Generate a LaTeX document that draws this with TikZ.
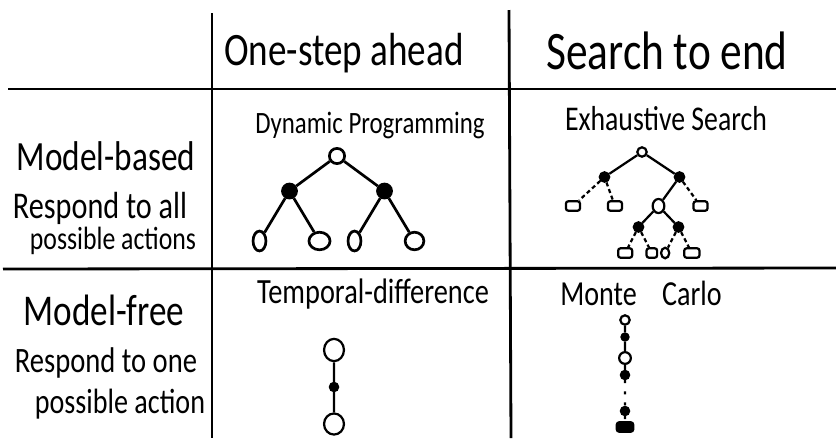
\documentclass[tikz,border=0pt]{standalone}
\usepackage{fontspec}
\setmainfont{Carlito}
\usetikzlibrary{shapes.geometric}

% handwriting is taller than the font, so stretch the words a bit
\newcommand{\tallword}[1]{\scalebox{1}[1.25]{#1}}

\begin{document}
\begin{tikzpicture}[x=0.03cm, y=-0.03cm, line width=1.9pt]
   \tikzset{hand/.style={inner sep=0pt, anchor=base, font=\fontsize{#1}{#1}\selectfont}}
   \tikzstyle{state}=[draw, ellipse, solid, inner sep=0pt, minimum width=11pt, minimum height=11pt]
   \tikzstyle{act}=[draw, circle, solid, fill=black, inner sep=0pt, minimum size=9pt]
   \tikzstyle{term}=[draw, solid, rectangle, rounded corners=2pt, inner sep=0pt,
                     minimum width=12pt, minimum height=8pt]
   \tikzstyle{tail}=[dash pattern=on 3.5pt off 2.5pt]

\useasboundingbox (0,0) rectangle (836,438);

% the table
\draw[line width=2.4pt] (8,89) -- (836,89);
\draw[line width=2.4pt] (3,269) -- (836,268);
\draw[line width=2.4pt] (212,13) -- (212,438);
\draw[line width=2.4pt] (509,10) -- (511,438);

% column heads
\node[hand=31.7] (onestep) at (344,65) {\tallword{One-step ahead}};
\node[hand=37] (toend) at (667,69) {\tallword{Search to end}};

% row heads
\node[hand=28.4] (based) at (106,170) {\tallword{Model-based}};
\node[hand=25.8] (basednote) at (100,218) {\tallword{Respond to all}};
\node[hand=22] (basednote2) at (113,249) {\tallword{possible actions}};
\node[hand=30] (free) at (104,325) {\tallword{Model-free}};
\node[hand=24.4] (freenote) at (106,372) {\tallword{Respond to one}};
\node[hand=24] (freenote2) at (120,413) {\tallword{possible action}};

% cell titles
\node[hand=21.2] (dp) at (370,133) {\tallword{Dynamic Programming}};
\node[hand=23.7] (es) at (666,130) {\tallword{Exhaustive Search}};
\node[hand=24.2] (td) at (373,303) {\tallword{Temporal-difference}};
\node[hand=24] (mc) at (641,305) {\tallword{Monte\hspace{0.9em}Carlo}};

% dynamic programming: full one-step backup
\begin{scope}[line width=2.3pt,
              level 1/.style={sibling distance=2.85cm, level distance=1.05cm},
              level 2/.style={sibling distance=1.8cm, level distance=1.5cm}]
\node[state, minimum size=13pt] (dproot) at (337,156) {}
    child {node[act, minimum size=12pt] (dpa) {}
        child {node[state, minimum width=11pt, minimum height=17pt] (dpaa) {}}
        child {node[state, minimum width=18pt, minimum height=15pt] (dpab) {}}
    }
    child {node[act, minimum size=12pt] (dpb) {}
        child {node[state, minimum width=11pt, minimum height=17pt] (dpba) {}}
        child {node[state, minimum width=16pt, minimum height=15pt] (dpbb) {}}
    };
\end{scope}

% exhaustive search: whole tree down to the ends
\begin{scope}[level 1/.style={sibling distance=2.25cm, level distance=0.75cm},
              level 2/.style={sibling distance=1.26cm, level distance=0.87cm},
              level 3/.style={sibling distance=1.2cm, level distance=0.63cm},
              level 4/.style={sibling distance=0.8cm, level distance=0.78cm}]
\node[state, minimum size=8pt] (esroot) at (642,152) {}
    child {node[act, minimum size=8pt] (esa) {}
        child[tail] {node[term, xshift=-9pt] (esaa) {}}
        child[tail] {node[term, xshift=-9pt] (esab) {}}
    }
    child {node[act, minimum size=8pt] (esb) {}
        child {node[state, minimum width=10pt, minimum height=12pt] (esba) {}
            child {node[act, minimum size=8pt] (esbaa) {}
                child[tail] {node[term] (esbaaa) {}}
                child[tail] {node[term, minimum width=9pt] (esbaab) {}}
            }
            child {node[act, minimum size=8pt] (esbab) {}
                child[tail] {node[state, minimum width=7pt, minimum height=9pt] (esbaba) {}}
                child[tail] {node[term, minimum width=13pt] (esbabb) {}}
            }
        }
        child[tail] {node[term] (esbb) {}}
    };
\end{scope}

% temporal-difference: one sampled step
\begin{scope}[level distance=1.11cm]
\node[state, minimum width=17pt, minimum height=19pt] (tdroot) at (334,350) {}
    child {node[act, minimum size=7pt] (tda) {}
        child {node[state, minimum width=17pt, minimum height=18pt] (tdb) {}}
    };
\end{scope}

% monte carlo: one sampled path to the end
\begin{scope}[level 1/.style={level distance=0.51cm},
              level 2/.style={level distance=0.63cm},
              level 3/.style={level distance=0.51cm},
              level 4/.style={level distance=1.08cm},
              level 5/.style={level distance=0.48cm}]
\node[state, minimum size=8pt] (mcroot) at (625,320) {}
    child {node[act, minimum size=6pt] (mca) {}
        child {node[state, minimum size=10pt] (mcb) {}
            child {node[act, minimum size=7pt] (mcc) {}
                child {node[act, minimum size=7pt] (mcd) {}
                    child {node[term, fill=black, minimum width=14pt, minimum height=8pt] (mcend) {}}
                    edge from parent[dash pattern=on 2.5pt off 7pt]
                }
            }
        }
    };
\end{scope}

\end{tikzpicture}
\end{document}
